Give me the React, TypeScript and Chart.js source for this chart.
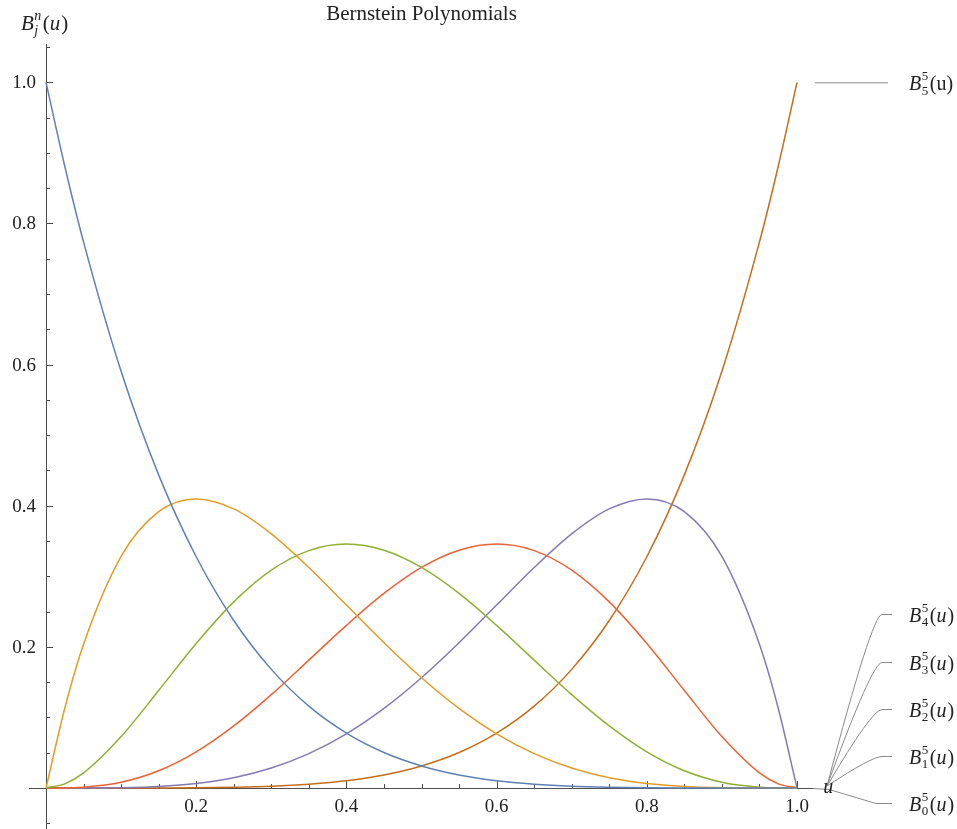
import React, { useEffect, useRef } from "react";
import { Chart, registerables } from "chart.js";

Chart.register(...registerables);

const uValues = [0, 0.025, 0.05, 0.1, 0.15, 0.2, 0.25, 0.3, 0.35, 0.4, 0.45, 0.5, 0.55, 0.6, 0.65, 0.7, 0.75, 0.8, 0.85, 0.9, 0.95, 0.975, 1.0];
const b0 = [1, 0.8811, 0.7738, 0.5905, 0.4437, 0.3277, 0.2373, 0.1681, 0.116, 0.0778, 0.0503, 0.0313, 0.0185, 0.0102, 0.0053, 0.0024, 0.001, 0.0003, 0.0001, 0.0, 0.0, 0.0, 0];
const b1 = [0, 0.113, 0.2036, 0.3281, 0.3915, 0.4096, 0.3955, 0.3602, 0.3124, 0.2592, 0.2059, 0.1563, 0.1128, 0.0768, 0.0488, 0.0284, 0.0146, 0.0064, 0.0022, 0.0005, 0.0, 0.0, 0];
const b2 = [0, 0.0059, 0.0214, 0.0729, 0.1382, 0.2048, 0.2637, 0.3087, 0.3364, 0.3456, 0.3369, 0.3125, 0.2757, 0.2304, 0.1812, 0.1323, 0.0879, 0.0512, 0.0244, 0.0081, 0.0011, 0.0001, 0];
const b3 = [0, 0.0001, 0.0011, 0.0081, 0.0244, 0.0512, 0.0879, 0.1323, 0.1812, 0.2304, 0.2757, 0.3125, 0.3369, 0.3456, 0.3364, 0.3087, 0.2637, 0.2048, 0.1382, 0.0729, 0.0214, 0.0059, 0];
const b4 = [0, 0.0, 0.0, 0.0005, 0.0022, 0.0064, 0.0146, 0.0284, 0.0488, 0.0768, 0.1128, 0.1563, 0.2059, 0.2592, 0.3124, 0.3602, 0.3955, 0.4096, 0.3915, 0.3281, 0.2036, 0.113, 0];
const b5 = [0, 0.0, 0.0, 0.0, 0.0001, 0.0003, 0.001, 0.0024, 0.0053, 0.0102, 0.0185, 0.0313, 0.0503, 0.0778, 0.116, 0.1681, 0.2373, 0.3277, 0.4437, 0.5905, 0.7738, 0.8811, 1];

const seriesIndex = ["0", "1", "2", "3", "4", "5"];
const seriesColors = ["#5E81B5", "#E19C24", "#8FB032", "#EB6235", "#8778B3", "#C56E1A"];
const xTickValues = [0.2, 0.4, 0.6, 0.8, 1.0];
const xTickLabels = ["0.2", "0.4", "0.6", "0.8", "1.0"];
const yTickValues = [0.2, 0.4, 0.6, 0.8, 1.0];
const yTickLabels = ["0.2", "0.4", "0.6", "0.8", "1.0"];
const titleText = "Bernstein Polynomials";

const SERIF = '"Liberation Serif", "DejaVu Serif", serif';
const TEXT = "#222222";

function drawBLabel(
  ctx: CanvasRenderingContext2D,
  x: number,
  base: number,
  sup: string,
  sub: string,
  uItalic: boolean,
  size: number,
  supItalic: boolean
) {
  ctx.textAlign = "left";
  ctx.textBaseline = "alphabetic";
  ctx.font = `italic ${size}px ${SERIF}`;
  ctx.fillText("B", x, base);
  let cx = x + ctx.measureText("B").width + 0.5;
  const s = Math.round(size * 0.66);
  ctx.font = `${supItalic ? "italic " : ""}${s}px ${SERIF}`;
  ctx.fillText(sup, cx, base - size * 0.5);
  ctx.fillText(sub, cx, base + size * 0.22);
  cx += Math.max(ctx.measureText(sup).width, ctx.measureText(sub).width) + 1.5;
  ctx.font = `${size}px ${SERIF}`;
  ctx.fillText("(", cx, base);
  cx += ctx.measureText("(").width;
  ctx.font = `${uItalic ? "italic " : ""}${size}px ${SERIF}`;
  ctx.fillText("u", cx, base);
  cx += ctx.measureText("u").width + (uItalic ? 1 : 0);
  ctx.font = `${size}px ${SERIF}`;
  ctx.fillText(")", cx, base);
}

const axesPlugin = {
  id: "mmaAxes",
  beforeDatasetsDraw(chart: any) {
    const { ctx, chartArea, scales } = chart;
    const xs = scales.x;
    const ys = scales.y;
    const x0 = xs.getPixelForValue(0);
    const y0 = ys.getPixelForValue(0);
    ctx.save();
    ctx.strokeStyle = "#4d4d4d";
    ctx.lineWidth = 1;
    ctx.beginPath();
    ctx.moveTo(chartArea.left, y0 + 0.5);
    ctx.lineTo(xs.getPixelForValue(1.022), y0 + 0.5);
    ctx.moveTo(Math.round(x0) + 0.5, chartArea.top);
    ctx.lineTo(Math.round(x0) + 0.5, chartArea.bottom);
    ctx.stroke();
    ctx.beginPath();
    for (let i = 1; i <= 20; i++) {
      const v = i * 0.05;
      const px = Math.round(xs.getPixelForValue(v)) + 0.5;
      const major = i % 4 === 0;
      ctx.moveTo(px, y0);
      ctx.lineTo(px, y0 - (major ? 7 : 4));
    }
    for (let i = -1; i <= 21; i++) {
      if (i === 0) continue;
      const v = i * 0.05;
      const py = Math.round(ys.getPixelForValue(v)) + 0.5;
      const major = i > 0 && i % 4 === 0;
      ctx.moveTo(x0, py);
      ctx.lineTo(x0 + (major ? 7 : 4), py);
    }
    ctx.stroke();
    ctx.restore();
  },
  afterDraw(chart: any) {
    const { ctx, scales } = chart;
    const xs = scales.x;
    const ys = scales.y;
    const x0 = xs.getPixelForValue(0);
    const y0 = ys.getPixelForValue(0);
    ctx.save();
    ctx.fillStyle = TEXT;
    ctx.font = `19px ${SERIF}`;
    ctx.textBaseline = "alphabetic";
    ctx.textAlign = "center";
    xTickValues.forEach((v, i) => {
      ctx.fillText(xTickLabels[i], xs.getPixelForValue(v), y0 + 24);
    });
    ctx.textAlign = "right";
    yTickValues.forEach((v, i) => {
      ctx.fillText(yTickLabels[i], x0 - 10, ys.getPixelForValue(v) + 6);
    });
    ctx.font = `21px ${SERIF}`;
    ctx.textAlign = "center";
    ctx.fillText(titleText, 421.5, 20);
    drawBLabel(ctx, 21, 30, "n", "j", true, 21, true);
    ctx.strokeStyle = "#8a8a8a";
    ctx.lineWidth = 1;
    const endX = xs.getPixelForValue(1.0);
    const topY = ys.getPixelForValue(1.0);
    ctx.beginPath();
    ctx.moveTo(endX + 18, topY + 0.5);
    ctx.lineTo(endX + 91, topY + 0.5);
    ctx.stroke();
    const anchorX = xs.getPixelForValue(1.04);
    const anchorY = y0 - 2;
    const labelYs = [803, 756, 709, 662, 614];
    ctx.beginPath();
    ctx.moveTo(xs.getPixelForValue(1.021), y0 + 0.5);
    ctx.lineTo(anchorX + 2, y0 + 1.5);
    ctx.lineTo(876, labelYs[0] + 0.5);
    ctx.lineTo(892, labelYs[0] + 0.5);
    for (let k = 1; k < 5; k++) {
      const ly = labelYs[k] + 0.5;
      ctx.moveTo(anchorX, anchorY);
      ctx.quadraticCurveTo(872, ly, 882, ly);
      ctx.lineTo(892, ly);
    }
    ctx.stroke();
    ctx.fillStyle = TEXT;
    ctx.font = `italic 20px ${SERIF}`;
    ctx.textAlign = "left";
    ctx.fillText("u", xs.getPixelForValue(1.035), y0 + 5);
    drawBLabel(ctx, 909, topY + 8, "5", seriesIndex[5], false, 20, false);
    for (let k = 0; k < 5; k++) {
      drawBLabel(ctx, 909, labelYs[k] + 7.5, "5", seriesIndex[k], true, 20, false);
    }
    ctx.restore();
  },
};

export default function App() {
  const canvasRef = useRef<HTMLCanvasElement>(null);
  useEffect(() => {
    document.body.style.margin = "0";
    document.body.style.overflow = "hidden";
    const series = [b0, b1, b2, b3, b4, b5];
    const datasets = series.map((arr, i) => ({
      label: "B" + seriesIndex[i],
      data: uValues.map((u, j) => ({ x: u, y: arr[j] })),
      borderColor: seriesColors[i],
      backgroundColor: seriesColors[i],
      borderWidth: 1.5,
      pointRadius: 0,
      fill: false,
      cubicInterpolationMode: "monotone" as const,
      clip: false as any,
    }));
    const chart = new Chart(canvasRef.current as HTMLCanvasElement, {
      type: "line",
      data: { datasets },
      options: {
        responsive: false,
        animation: false,
        devicePixelRatio: 1,
        layout: { padding: { left: 29, right: 127, top: 44, bottom: 0 } },
        scales: {
          x: { type: "linear", min: -0.02264, max: 1.04394, display: false },
          y: { type: "linear", min: -0.0581, max: 1.05427, display: false },
        },
        plugins: {
          legend: { display: false },
          tooltip: { enabled: false },
          title: { display: false },
        },
      },
      plugins: [axesPlugin],
    });
    return () => chart.destroy();
  }, []);
  return <canvas ref={canvasRef} width={957} height={829} style={{ display: "block" }} />;
}
